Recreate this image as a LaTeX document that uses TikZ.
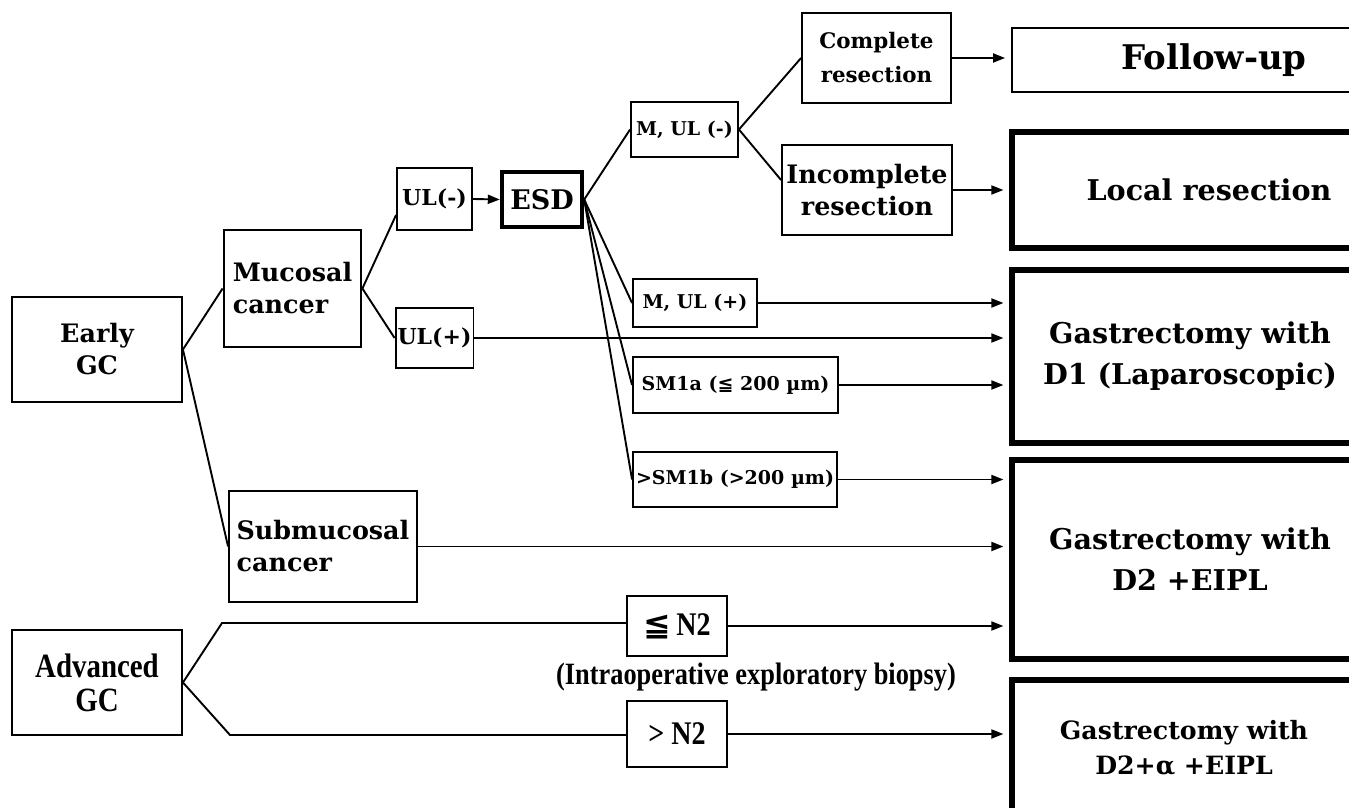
\documentclass[tikz,border=0pt]{standalone}
\usepackage{fontspec}
\setmainfont{DejaVu Serif}
\newfontfamily\symfont{DejaVu Sans}
\newfontfamily\condfont[FakeStretch=0.85]{Liberation Serif}
\usetikzlibrary{arrows.meta,positioning}

\tikzset{
  box/.style={draw, line width=0.95pt, inner sep=1pt, align=center},
  thickbox/.style={box, line width=2.6pt},
  hugetxt/.style={font=\bfseries\fontsize{17}{20.5}\selectfont},
  bigtxt/.style={font=\bfseries\fontsize{14.3}{20.5}\selectfont},
  lowtxt/.style={font=\bfseries\fontsize{12.6}{17.5}\selectfont},
  midtxt/.style={font=\bfseries\fontsize{12.7}{16}\selectfont},
  smtxt/.style={font=\bfseries\fontsize{10.7}{17}\selectfont},
  ultxt/.style={font=\bfseries\fontsize{11}{13}\selectfont},
  tinytxt/.style={font=\bfseries\fontsize{9.5}{11}\selectfont},
  ntxt/.style={font=\condfont\bfseries\fontsize{16.5}{18}\selectfont},
  advtxt/.style={font=\condfont\bfseries\fontsize{17}{17}\selectfont},
  notetxt/.style={font=\condfont\bfseries\fontsize{15.5}{17}\selectfont},
  link/.style={line width=0.95pt},
  arr/.style={link, -{Triangle[length=6pt,width=4.5pt]}, shorten >=3pt}
}

\begin{document}
\begin{tikzpicture}[x=0.5pt,y=-0.5pt]
  \useasboundingbox (0,0) rectangle (1349,808);

  % stage boxes
  \node[box, midtxt, minimum width=85pt, minimum height=52.5pt] (early) at (97,349.5) {Early\\GC};
  \node[box, midtxt, line width=1.4pt, align=left, minimum width=68.5pt, minimum height=58.5pt] (mucosal) at (292.5,288.5) {Mucosal\\cancer};
  \node[box, midtxt, align=left, minimum width=94pt, minimum height=55.5pt] (submucosal) at (323,546.5) {Submucosal\\cancer};
  \node[box, advtxt, minimum width=85pt, minimum height=52.5pt] (advanced) at (97,682.5) {Advanced\\GC};

  % ulcer and ESD
  \node[box, ultxt, minimum width=37.5pt, minimum height=31pt] (ulneg) at (434.5,199) {UL(-)};
  \node[box, ultxt, minimum width=37.5pt, minimum height=30pt] (ulpos) at (434.5,338) {UL(+)};
  \node[box, midtxt, font=\bfseries\fontsize{13.5}{16}\selectfont, line width=2.2pt, minimum width=40pt, minimum height=27.5pt] (esd) at (542,199.5) {ESD};

  % ESD results
  \node[box, tinytxt, minimum width=53.5pt, minimum height=27.5pt] (mulneg) at (684.5,129.5) {M, UL (-)};
  \node[box, tinytxt, minimum width=62pt, minimum height=24pt] (mulpos) at (695,303) {M, UL (+)};
  \node[box, tinytxt, minimum width=102.5pt, minimum height=28pt] (smia) at (735.5,385) {SM1a ({\symfont ≦} 200 µm)};
  \node[box, tinytxt, minimum width=102pt, minimum height=27.5pt] (smib) at (735,479.5) {>SM1b (>200 µm)};
  \node[box, smtxt, minimum width=74.5pt, minimum height=45pt] (complete) at (876.5,58) {Complete\\resection};
  \node[box, midtxt, minimum width=85pt, minimum height=45pt] (incomplete) at (867,190) {Incomplete\\resection};

  % N stage
  \node[box, ntxt, minimum width=50pt, minimum height=30pt] (len2) at (677,626) {{\symfont ≦}\,N2};
  \node[box, ntxt, minimum width=50pt, minimum height=33pt] (gtn2) at (677,734) {> N2};
  \node[notetxt] (biopsy) at (756,677) {(Intraoperative exploratory biopsy)};

  % treatments
  \node[box, hugetxt, minimum width=202pt, minimum height=32pt] (followup) at (1214,60) {Follow-up};
  \node[thickbox, bigtxt, minimum width=197pt, minimum height=58pt] (localres) at (1209,190) {Local resection};
  \node[thickbox, bigtxt, minimum width=178pt, minimum height=86.5pt] (gastd1) at (1190,356.5) {Gastrectomy with\\D1 (Laparoscopic)};
  \node[thickbox, bigtxt, minimum width=178pt, minimum height=99.5pt] (gastd2) at (1190,559.5) {Gastrectomy with\\D2 +EIPL};
  \node[thickbox, lowtxt, minimum width=172pt, minimum height=67.5pt] (gastd2a) at (1184,747.5) {Gastrectomy with\\D2+α +EIPL};

  % connectors
  \draw[link] (early.east) -- (mucosal.west);
  \draw[link] (early.east) -- (submucosal.west);
  \draw[link] (mucosal.east) -- ([yshift=-8pt]ulneg.west);
  \draw[link] (mucosal.east) -- (ulpos.west);
  \draw[arr, shorten >=0pt] (ulneg.east) -- (esd.west);
  \draw[link] (esd.east) -- (mulneg.west);
  \foreach \to in {mulpos,smia,smib}
    \draw[link] (esd.east) -- (\to.west);
  \draw[link] (mulneg.east) -- (complete.west);
  \draw[link] (mulneg.east) -- ([yshift=5pt]incomplete.west);

  \foreach \from/\to in {complete/followup,incomplete/localres,mulpos/gastd1,ulpos/gastd1,smia/gastd1,smib/gastd2,submucosal/gastd2,len2/gastd2,gtn2/gastd2a}
    \draw[arr] (\from.east) -- (\from.east -| \to.west);

  \coordinate (upbend) at (222,623);
  \coordinate (lowbend) at (230,735);
  \draw[link] (advanced.east) -- (upbend) -- (upbend -| len2.west);
  \draw[link] (advanced.east) -- (lowbend) -- (lowbend -| gtn2.west);

\end{tikzpicture}
\end{document}
